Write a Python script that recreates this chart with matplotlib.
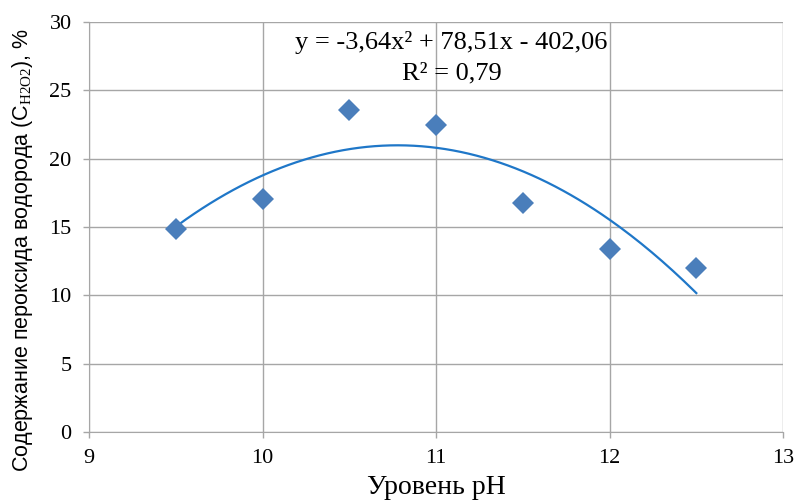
import matplotlib.pyplot as plt
import numpy as np

plt.rcParams['font.family'] = ['Liberation Serif', 'DejaVu Serif']
plt.rcParams['mathtext.fontset'] = 'custom'
plt.rcParams['mathtext.rm'] = 'Liberation Serif'

ph = [9.5, 10.0, 10.5, 11.0, 11.5, 12.0, 12.5]
h2o2 = [14.85, 17.05, 23.6, 22.45, 16.75, 13.4, 12.0]

x_ticks = [9, 10, 11, 12, 13]
y_ticks = [0, 5, 10, 15, 20, 25, 30]

eq_text = "y = -3,64x² + 78,51x - 402,06"
r2_text = "R² = 0,79"

grid_col = '#a6a6a6'

fig = plt.figure(figsize=(7.95, 5.04), dpi=100)
ax = fig.add_axes([0.112, 0.143, 0.873, 0.813])

# полиномиальная линия тренда 2-й степени
coef = np.polyfit(ph, h2o2, 2)
xs = np.linspace(min(ph), max(ph), 200)
ax.plot(xs, np.polyval(coef, xs), color='#1f77c8', lw=1.6, zorder=3)

ax.plot(ph, h2o2, 'D', color='#4a7ebb', markersize=11, markeredgewidth=0, zorder=4)

ax.set_xlim(9, 13)
ax.set_ylim(0, 30)
ax.set_xticks(x_ticks)
ax.set_yticks(y_ticks)
ax.grid(True, color=grid_col, lw=1.0)
ax.set_axisbelow(True)
for s in ['top', 'right']:
    ax.spines[s].set_visible(False)
for s in ['left', 'bottom']:
    ax.spines[s].set_color(grid_col)
ax.tick_params(axis='both', colors=grid_col, length=4.5, width=1.0,
               labelcolor='black', labelsize=16)
ax.tick_params(axis='x', pad=8)
ax.tick_params(axis='y', pad=8)

ax.text(11.09, 28.5, eq_text, ha='center', va='center', fontsize=19)
ax.text(11.09, 26.25, r2_text, ha='center', va='center', fontsize=19)

ax.set_xlabel("Уровень pH", fontsize=20)
ax.xaxis.set_label_coords(0.5, -0.105)
ax.set_ylabel("Содержание пероксида водорода (C$_{\\mathrm{H2O2}}$), %",
              fontsize=15.5, family='Liberation Sans')
ax.yaxis.set_label_coords(-0.078, 0.444)

fig.savefig('out.png', dpi=100)
